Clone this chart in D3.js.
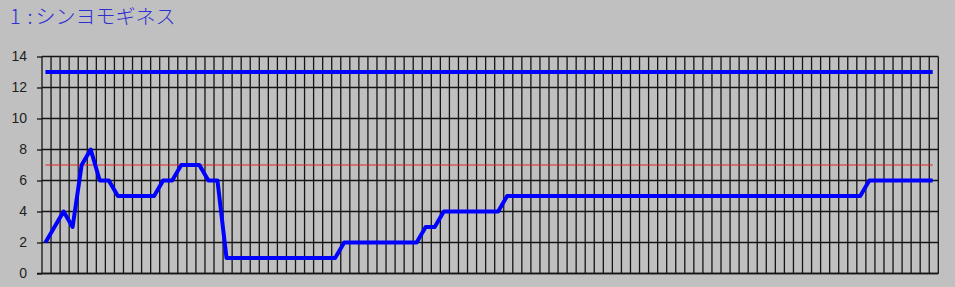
<!DOCTYPE html>
<html>
<head>
<meta charset="utf-8">
<script src="https://cdn.jsdelivr.net/npm/d3@7"></script>
<style>
  html, body { margin: 0; padding: 0; background: #c0c0c0; }
  svg { display: block; }
</style>
</head>
<body>
<svg id="chart" width="955" height="287"></svg>
<script>
// data
const titleParts = ['1', ':', 'シンヨモギネス'];
const yTicks = [0, 2, 4, 6, 8, 10, 12, 14];
const rankValues = [
  2, 3, 4, 3, 7, 8, 6, 6, 5, 5, 5, 5, 5, 6, 6, 7, 7, 7, 6, 6,
  1, 1, 1, 1, 1, 1, 1, 1, 1, 1, 1, 1, 1,
  2, 2, 2, 2, 2, 2, 2, 2, 2,
  3, 3,
  4, 4, 4, 4, 4, 4, 4,
  5, 5, 5, 5, 5, 5, 5, 5, 5, 5, 5, 5, 5, 5, 5, 5, 5, 5, 5, 5,
  5, 5, 5, 5, 5, 5, 5, 5, 5, 5, 5, 5, 5, 5, 5, 5, 5, 5, 5, 5,
  6, 6, 6, 6, 6, 6, 6, 6,
];
const fieldSize = 13;   // thick blue line on top
const midLine = 7;      // thin red line

const BG = '#c0c0c0';
const BLUE = '#0000ff';
const GRID = '#141414';

const svg = d3.select('#chart');
const margin = { top: 56.5, left: 42, right: 938.3, bottom: 273.5 };

const x = d3.scaleLinear()
  .domain([0, rankValues.length])
  .range([margin.left, margin.right]);

const y = d3.scaleLinear()
  .domain([0, 14])
  .range([margin.bottom, margin.top]);

// points sit a little right of their grid line
const px = (i) => x(i + 0.38);

svg.append('rect')
  .attr('width', 955)
  .attr('height', 287)
  .attr('fill', BG);

// title, "1 : name" with loose spacing round the colon
const titleEl = svg.append('text')
  .attr('y', 24)
  .style('font-family', '"Noto Sans CJK JP", sans-serif')
  .style('font-size', '20px')
  .style('font-weight', 300)
  .style('fill', '#2e2ed2');
titleEl.append('tspan').attr('x', 10).text(titleParts[0]);
titleEl.append('tspan').attr('x', 27.5).text(titleParts[1]);
titleEl.append('tspan').attr('x', 35.5).text(titleParts[2]);

// vertical grid, one per race plus the right border
const grid = svg.append('g').attr('class', 'grid');
grid.selectAll('line.v')
  .data(rankValues.map((d, i) => i).concat([rankValues.length]))
  .enter()
  .append('line')
  .attr('class', 'v')
  .attr('x1', d => x(d))
  .attr('x2', d => x(d))
  .attr('y1', y(14))
  .attr('y2', y(0))
  .attr('stroke', GRID)
  .attr('stroke-width', 1.3);

// horizontal grid
grid.selectAll('line.h')
  .data(yTicks)
  .enter()
  .append('line')
  .attr('class', 'h')
  .attr('x1', x(0))
  .attr('x2', x(rankValues.length))
  .attr('y1', d => y(d))
  .attr('y2', d => y(d))
  .attr('stroke', GRID)
  .attr('stroke-width', 1.3);

// y axis with ticks and labels
const yAxis = d3.axisLeft(y)
  .tickValues(yTicks)
  .tickSize(5)
  .tickPadding(10);

const yAxisEl = svg.append('g')
  .attr('transform', `translate(${x(0)},0)`)
  .call(yAxis);
yAxisEl.select('.domain').remove();
yAxisEl.selectAll('line')
  .attr('stroke', GRID)
  .attr('stroke-width', 1.3);
yAxisEl.selectAll('text')
  .style('font-family', '"Liberation Sans", Arial, sans-serif')
  .style('font-size', '14px')
  .style('fill', '#1e1e1e');

// bottom axis line reaches the tick stubs
svg.append('line')
  .attr('x1', x(0) - 5)
  .attr('x2', x(rankValues.length))
  .attr('y1', y(0))
  .attr('y2', y(0))
  .attr('stroke', GRID)
  .attr('stroke-width', 1.5);

// red reference line
svg.append('line')
  .attr('x1', px(0))
  .attr('x2', px(rankValues.length - 1))
  .attr('y1', y(midLine))
  .attr('y2', y(midLine))
  .attr('stroke', '#e02424')
  .attr('stroke-width', 1);

// field size line
svg.append('line')
  .attr('x1', px(0))
  .attr('x2', px(rankValues.length - 1))
  .attr('y1', y(fieldSize))
  .attr('y2', y(fieldSize))
  .attr('stroke', BLUE)
  .attr('stroke-width', 4);

// rank line
const line = d3.line()
  .x((d, i) => px(i))
  .y(d => y(d));

svg.append('path')
  .datum(rankValues)
  .attr('d', line)
  .attr('fill', 'none')
  .attr('stroke', BLUE)
  .attr('stroke-width', 4)
  .attr('stroke-linejoin', 'round');
</script>
</body>
</html>
